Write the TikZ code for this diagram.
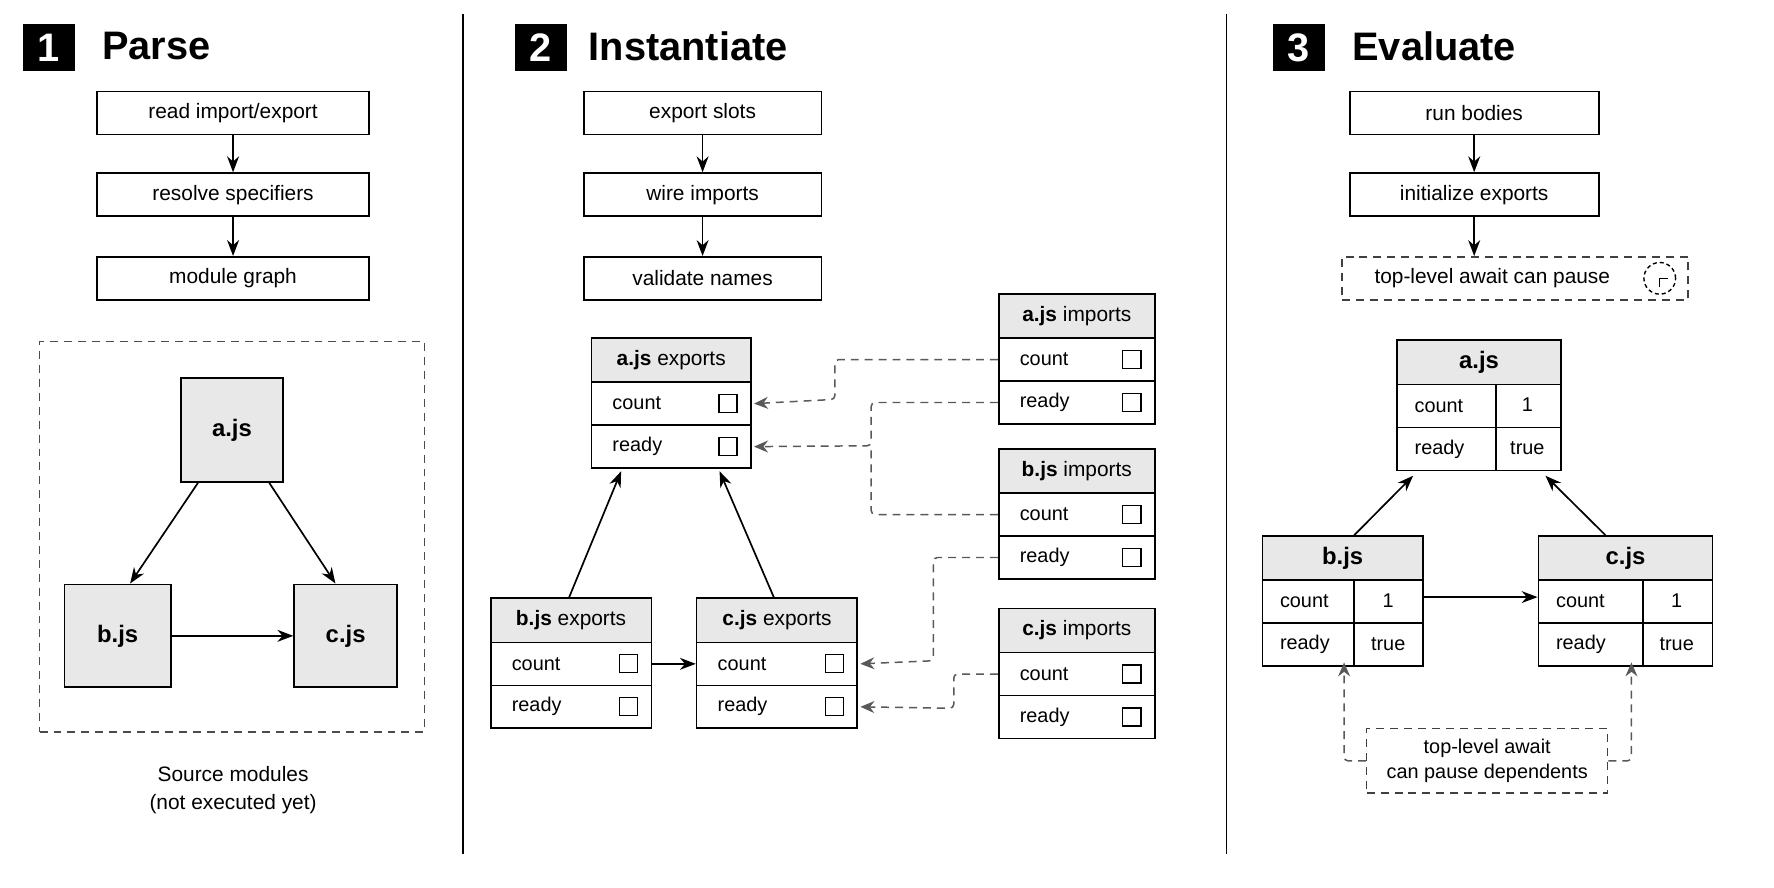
\documentclass[tikz,border=0pt]{standalone}
\usepackage{fontspec}
\setmainfont{Liberation Sans}
\usetikzlibrary{arrows.meta}
\tikzset{
  ln/.style={line width=0.85pt},
  step box/.style={draw,ln,minimum width=#1*0.2mm,minimum height=38*0.2mm,inner sep=0pt,font=\fontsize{10.5}{12}\selectfont},
  hdr/.style={draw,ln,fill=black!9,anchor=north west,minimum height=39*0.2mm,inner sep=0pt,font=\fontsize{10.5}{12}\selectfont},
  cell/.style={draw,ln,anchor=north west,minimum height=38*0.2mm,inner sep=0pt},
  txt/.style={font=\fontsize{10}{12}\selectfont,inner sep=0pt},
  chk/.style={draw,line width=0.6pt,minimum size=16*0.2mm,inner sep=0pt},
  arr/.style={ln,-{Stealth[length=8pt,width=6pt]}},
  darr/.style={line width=0.75pt,black!65,dashed,dash pattern=on 4pt off 3pt,rounded corners=2pt,-{Stealth[length=7pt,width=6pt]}},
  dline/.style={line width=0.75pt,black!65,dashed,dash pattern=on 4pt off 3pt,rounded corners=2pt},
  numbox/.style={fill=black,text=white,font=\fontsize{20}{24}\bfseries\selectfont,minimum width=46*0.2mm,minimum height=41*0.2mm,inner sep=0pt},
  title/.style={anchor=west,font=\fontsize{20}{24}\bfseries\selectfont,inner sep=0pt},
  mod/.style={draw,ln,fill=black!9,inner sep=0pt,font=\fontsize{12}{14}\bfseries\selectfont},
}
% export/import table with checkboxes
\newcommand\chktab[6]{% name, x, y, w, bold, rest
  \node[hdr,minimum width=#4*0.2mm] (#1) at (#2,#3) {\textbf{#5} #6};
  \node[cell,minimum width=#4*0.2mm] (#1c) at (#2,#3+39) {};
  \node[cell,minimum width=#4*0.2mm] (#1r) at (#2,#3+77) {};
  \node[txt,anchor=west] (#1ct) at ([xshift=19*0.2mm]#1c.west) {count};
  \node[txt,anchor=west] (#1rt) at ([xshift=19*0.2mm]#1r.west) {ready};
  \node[chk] (#1cb) at ([xshift=-21*0.2mm]#1c.east) {};
  \node[chk] (#1rb) at ([xshift=-21*0.2mm]#1r.east) {};
}
% value table
\newcommand\valtab[5]{% name, x, y, w, divider offset
  \node[hdr,minimum width=#4*0.2mm,font=\fontsize{12}{14}\bfseries\selectfont] (#1) at (#2,#3) {#1.js};
  \node[cell,minimum width=#4*0.2mm] (#1c) at (#2,#3+39) {};
  \node[cell,minimum width=#4*0.2mm] (#1r) at (#2,#3+77) {};
  \coordinate (#1d1) at (#2+#5,#3+39);
  \coordinate (#1d2) at (#2+#5,#3+115);
  \draw[ln] (#1d1) -- (#1d2);
  \node[txt,anchor=west] (#1ct) at ([xshift=16*0.2mm]#1c.west) {count};
  \node[txt,anchor=west] (#1rt) at ([xshift=16*0.2mm]#1r.west) {ready};
  \node[txt] (#1cv) at ($(#1c.west)!0.5!(#1c.east)+(#5/2+#4/4-#4/4,0)$) {};
}
\usetikzlibrary{calc}
\begin{document}
\begin{tikzpicture}[x=0.2mm,y=-0.2mm]
\useasboundingbox[fill=white] (0,0) rectangle (1568,784);
% dividers
\coordinate (d1t) at (409,12); \coordinate (d1b) at (409,755);
\coordinate (d2t) at (1084,12); \coordinate (d2b) at (1084,755);
\draw[ln] (d1t) -- (d1b); \draw[ln] (d2t) -- (d2b);
% headings
\node[numbox] (n1) at (43,42) {1}; \node[title] (t1) at (90,41) {Parse};
\node[numbox] (n2) at (478,42) {2}; \node[title] (t2) at (520,41) {Instantiate};
\node[numbox] (n3) at (1148,42) {3}; \node[title] (t3) at (1195,41) {Evaluate};
% ---- Parse
\node[step box=240] (p1) at (206,100) {read import/export};
\node[step box=240] (p2) at (206,172) {resolve specifiers};
\node[step box=240] (p3) at (206,246) {module graph};
\draw[arr] (p1) -- (p2); \draw[arr] (p2) -- (p3);
\node[draw,dashed,dash pattern=on 4pt off 3pt,line width=0.75pt,black!70,minimum width=340*0.2mm,minimum height=345*0.2mm] (pbox) at (205,474.5) {};
\node[mod,minimum width=90*0.2mm,minimum height=92*0.2mm] (ma) at (205,380) {a.js};
\node[mod,minimum width=94*0.2mm,minimum height=91*0.2mm] (mb) at (104,562) {b.js};
\node[mod,minimum width=91*0.2mm,minimum height=91*0.2mm] (mc) at (305.5,562) {c.js};
\draw[arr] ([xshift=-30*0.2mm]ma.south) -- ([xshift=11*0.2mm]mb.north);
\draw[arr] ([xshift=33*0.2mm]ma.south) -- ([xshift=-9*0.2mm]mc.north);
\draw[arr] (mb) -- (mc);
\node[align=center,font=\fontsize{10.5}{14}\selectfont] (src) at (206,698) {Source modules\\(not executed yet)};
% ---- Instantiate
\node[step box=210] (i1) at (621,100) {export slots};
\node[step box=210] (i2) at (621,172) {wire imports};
\node[step box=210] (i3) at (621,246) {validate names};
\draw[arr] (i1) -- (i2); \draw[arr] (i2) -- (i3);
\chktab{ae}{522}{298}{141}{a.js}{exports}
\chktab{be}{433}{528}{142}{b.js}{exports}
\chktab{ce}{615}{528}{142}{c.js}{exports}
\chktab{ai}{882}{259}{138}{a.js}{imports}
\chktab{bi}{882}{396}{138}{b.js}{imports}
\chktab{ci}{882}{537}{138}{c.js}{imports}
\draw[arr] ([xshift=70*0.2mm]be.north west) -- ([xshift=27*0.2mm,yshift=-2*0.2mm]aer.south west);
\draw[arr] ([xshift=69*0.2mm]ce.north west) -- ([xshift=114*0.2mm,yshift=-2*0.2mm]aer.south west);
\draw[arr] (bec.east) -- (cec.west);
\draw[darr] (aic.west) -| (738,353) -- ([xshift=2*0.2mm]aec.east);
\draw[darr] (air.west) -| (770,394) -- ([xshift=2*0.2mm]aer.east);
\draw[dline] (bic.west) -| (770,394);
\draw[darr] (bir.west) -| (825,584) -- ([xshift=2*0.2mm]cec.east);
\draw[darr] (cic.west) -| (843,626) -- ([xshift=2*0.2mm]cer.east);
% ---- Evaluate
\node[step box=220] (e1) at (1303,100) {run bodies};
\node[step box=220] (e2) at (1303,172) {initialize exports};
\node[step box=306,draw=black!75,dashed,dash pattern=on 4pt off 3pt,line width=0.75pt] (e3) at (1339,246) {\hspace*{-40\dimexpr0.2mm\relax}top-level await can pause};
\node[draw,circle,dashed,dash pattern=on 2pt off 1.5pt,line width=0.7pt,minimum size=28*0.2mm,inner sep=0pt] (clk) at (1467,246) {};
\draw[line width=0.6pt] ([yshift=-8*0.2mm]clk.center) -- (clk.center) -- ([xshift=7*0.2mm]clk.center);
\draw[arr] (e1) -- (e2); \draw[arr] (e2.south) -- ([xshift=-36*0.2mm]e3.north);
\valtab{a}{1234}{300}{145}{88}
\valtab{b}{1115}{473}{142}{82}
\valtab{c}{1359}{473}{154}{93}
\node[txt] (av1) at (1350,358) {1}; \node[txt] (av2) at (1350,396) {true};
\node[txt] (bv1) at (1227,531) {1}; \node[txt] (bv2) at (1227,569) {true};
\node[txt] (cv1) at (1482,531) {1}; \node[txt] (cv2) at (1482,569) {true};
\draw[arr] ([xshift=82*0.2mm]b.north west) -- ([xshift=15*0.2mm,yshift=-4*0.2mm]ar.south west);
\draw[arr] ([xshift=60*0.2mm]c.north west) -- ([xshift=132*0.2mm,yshift=-4*0.2mm]ar.south west);
\draw[arr] ([yshift=4*0.2mm]bc.east) -- ([yshift=4*0.2mm]cc.west);
\node[draw=black!75,dashed,dash pattern=on 4pt off 3pt,line width=0.75pt,align=center,minimum width=213*0.2mm,minimum height=57*0.2mm,inner sep=0pt,font=\fontsize{10}{12.5}\selectfont] (note) at (1314.5,672.5) {top-level await\\can pause dependents};
\draw[darr] (note.west) -| ([xshift=73*0.2mm,yshift=4*0.2mm]br.south west);
\draw[darr] (note.east) -| ([xshift=83*0.2mm,yshift=4*0.2mm]cr.south west);
\end{tikzpicture}
\end{document}
